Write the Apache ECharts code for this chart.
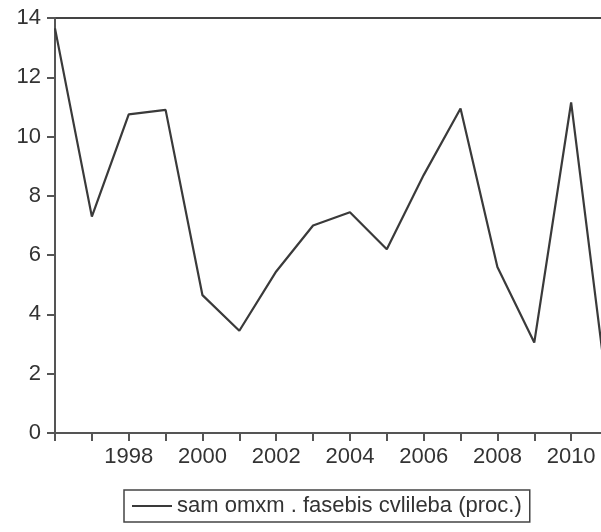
<!DOCTYPE html>
<html lang="en">
<head>
    <meta charset="UTF-8">
    <title>line</title>
    <script src="https://cdn.jsdelivr.net/npm/echarts@6/dist/echarts.min.js"></script>
    <style>
        html, body { margin: 0; padding: 0; background: #fff; }
    </style>
</head>
<body>
    <div id="main" style="width: 601px; height: 532px;"></div>
    <script>
        // years on the x axis
        var years = ['1996', '1997', '1998', '1999', '2000', '2001', '2002', '2003',
            '2004', '2005', '2006', '2007', '2008', '2009', '2010', '2011'];
        // price change, %
        var values = [13.65, 7.3, 10.75, 10.9, 4.65, 3.45, 5.45, 7.0,
            7.45, 6.2, 8.7, 10.95, 5.6, 3.05, 11.15, 1.2];
        var shownYears = ['1998', '2000', '2002', '2004', '2006', '2008', '2010'];
        var seriesName = 'sam omxm . fasebis cvlileba (proc.)';

        var myChart = echarts.init(document.getElementById('main'));
        var font = 'Liberation Sans, Arial, sans-serif';

        var option = {
            animation: false,
            backgroundColor: '#fff',
            grid: {
                left: 55,
                top: 18,
                right: -7,
                bottom: 99,
                outerBoundsMode: 'none',
                containLabel: false,
                show: true,
                borderColor: '#444',
                borderWidth: 2
            },
            legend: {
                data: [seriesName],
                left: 124,
                top: 490,
                itemWidth: 40,
                itemHeight: 14,
                itemGap: 5,
                icon: 'path://M0,6 L40,6 L40,8 L0,8 Z',
                padding: [5, 8, 5, 8],
                borderColor: '#444',
                borderWidth: 1.5,
                textStyle: { fontFamily: font, fontSize: 22, color: '#333' }
            },
            xAxis: {
                type: 'category',
                data: years,
                boundaryGap: false,
                axisLine: { lineStyle: { color: '#555', width: 2 } },
                axisTick: { interval: 0, length: 8, lineStyle: { color: '#555', width: 2 } },
                axisLabel: {
                    interval: 0,
                    margin: 13,
                    fontFamily: font,
                    fontSize: 22,
                    color: '#333',
                    formatter: function (v) {
                        return shownYears.indexOf(v) >= 0 ? v : '';
                    }
                },
                splitLine: { show: false }
            },
            yAxis: {
                type: 'value',
                min: 0,
                max: 14,
                interval: 2,
                axisLine: { show: true, lineStyle: { color: '#555', width: 2 } },
                axisTick: { show: true, length: 8, lineStyle: { color: '#555', width: 2 } },
                axisLabel: { margin: 14, fontFamily: font, fontSize: 22, color: '#333' },
                splitLine: { show: false }
            },
            series: [
                {
                    name: seriesName,
                    type: 'line',
                    data: values,
                    symbol: 'none',
                    clip: true,
                    lineStyle: { color: '#3a3a3a', width: 2.2 },
                    itemStyle: { color: '#3a3a3a' }
                }
            ]
        };

        option && myChart.setOption(option);
    </script>
</body>
</html>
